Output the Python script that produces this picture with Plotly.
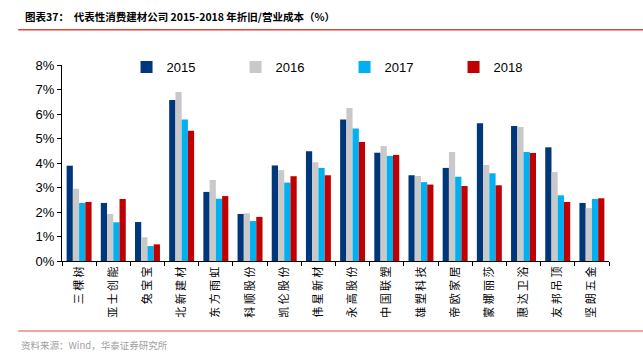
import plotly.graph_objects as go

companies = ["三棵树", "亚士创能", "兔宝宝", "北新建材", "东方雨虹", "科顺股份", "凯伦股份", "伟星新材",
             "永高股份", "中国联塑", "雄塑科技", "帝欧家居", "蒙娜丽莎", "惠达卫浴", "友邦吊顶", "坚朗五金"]
years = ["2015", "2016", "2017", "2018"]
v2015 = [3.89, 2.37, 1.59, 6.57, 2.82, 1.92, 3.90, 4.48, 5.78, 4.42, 3.50, 3.80, 5.62, 5.51, 4.64, 2.37]
v2016 = [2.95, 1.92, 0.97, 6.90, 3.31, 1.95, 3.71, 4.03, 6.24, 4.69, 3.47, 4.45, 3.92, 5.47, 3.63, 2.16]
v2017 = [2.37, 1.58, 0.61, 5.78, 2.54, 1.63, 3.20, 3.80, 5.41, 4.29, 3.22, 3.44, 3.58, 4.45, 2.68, 2.53]
v2018 = [2.41, 2.53, 0.68, 5.32, 2.65, 1.80, 3.46, 3.50, 4.86, 4.33, 3.12, 3.06, 3.09, 4.41, 2.41, 2.56]
series = [v2015, v2016, v2017, v2018]
colors = ["#00367A", "#C9C9C9", "#00B0F0", "#C00000"]
yticks = [0, 1, 2, 3, 4, 5, 6, 7, 8]

tick_text = [" ".join(list(c)) for c in companies]

fig = go.Figure()
for name, vals, col in zip(years, series, colors):
    fig.add_trace(go.Bar(x=companies, y=vals, name=name, marker=dict(color=col, line=dict(width=0))))

fig.update_layout(
    width=643, height=353,
    margin=dict(l=62, r=34, t=65, b=92),
    paper_bgcolor="white", plot_bgcolor="white",
    barmode="group", bargap=0.27, bargroupgap=0,
    font=dict(family="Liberation Sans, Arial, Noto Sans CJK SC", size=13, color="#000"),
    showlegend=True,
    legend=dict(orientation="h", x=0.118, y=0.99, xanchor="left", yanchor="middle",
                entrywidth=64, entrywidthmode="pixels", font=dict(size=13),
                bgcolor="rgba(0,0,0,0)", traceorder="normal"),
)
fig.update_xaxes(
    tickvals=companies, ticktext=tick_text,
    showline=True, linecolor="#000", linewidth=1,
    ticks="outside", tickson="boundaries", ticklen=4, tickcolor="#000",
    tickangle=-90, tickfont=dict(family="Noto Sans CJK SC", size=11, color="#000"),
    showgrid=False,
)
fig.update_yaxes(
    range=[0, 8], tickvals=yticks, ticktext=[f"{t}%" for t in yticks],
    showline=True, linecolor="#000", linewidth=1,
    ticks="outside", ticklen=4, tickcolor="#000",
    showgrid=False, zeroline=False, tickfont=dict(size=13),
)

fig.add_annotation(xref="paper", yref="paper", x=-0.072, y=1.245, xanchor="left", yanchor="middle",
                   showarrow=False,
                   text="<b>图表37：  代表性消费建材公司 2015-2018 年折旧/营业成本（%）</b>",
                   font=dict(family="Noto Sans CJK SC", size=10.5, color="#000"))
fig.add_annotation(xref="paper", yref="paper", x=-0.078, y=-0.43, xanchor="left", yanchor="middle",
                   showarrow=False, text="资料来源：Wind，华泰证券研究所",
                   font=dict(family="Noto Sans CJK SC", size=9.5, color="#A0A0A0"))
fig.add_shape(type="line", xref="paper", yref="paper", x0=-0.08, x1=1.07, y0=1.18, y1=1.18,
              line=dict(color="#E5432F", width=1.5))
fig.add_shape(type="line", xref="paper", yref="paper", x0=-0.08, x1=1.07, y0=-0.357, y1=-0.357,
              line=dict(color="#F3A39C", width=2))

fig.write_html("out.html")
